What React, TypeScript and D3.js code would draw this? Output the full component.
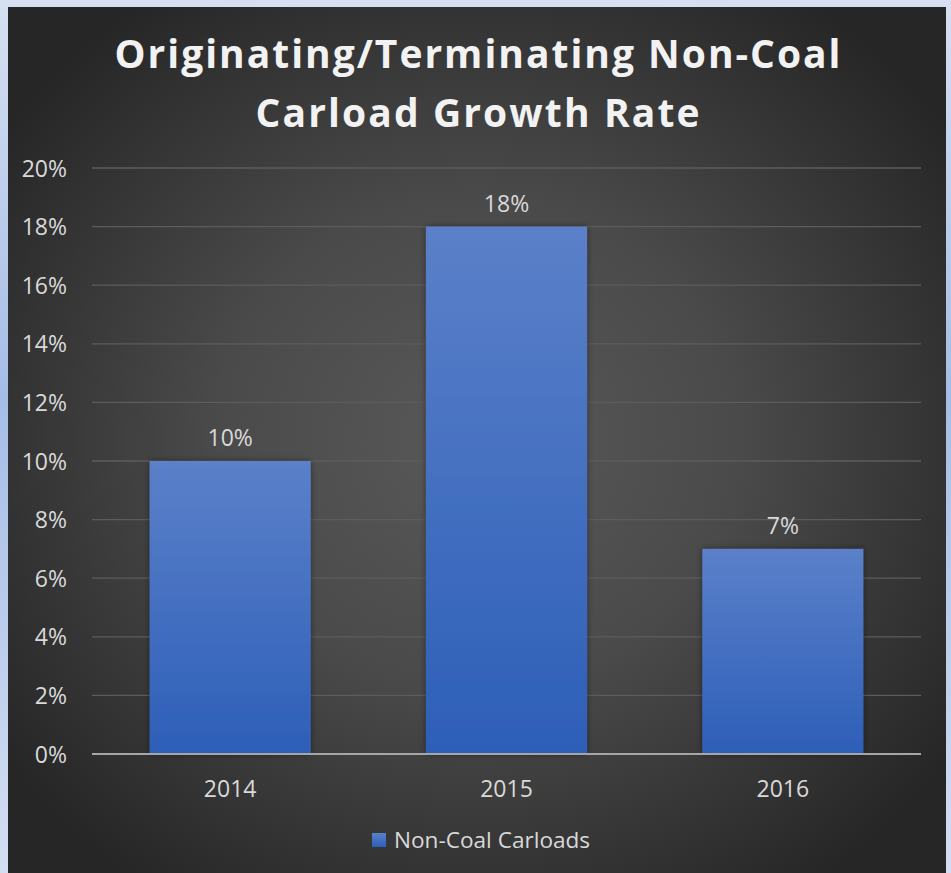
import React from 'react'
import * as d3 from 'd3'

const years = ['2014', '2015', '2016']
const growth = [10, 18, 7]
const yTicks = [0, 2, 4, 6, 8, 10, 12, 14, 16, 18, 20]
const titleLines = ['Originating/Terminating Non-Coal', 'Carload Growth Rate']
const seriesName = 'Non-Coal Carloads'

const W = 951
const H = 873
const font = '"Open Sans", "Noto Sans", sans-serif'
const labelColor = '#d9d9d9'

const x = d3.scaleBand<string>()
  .domain(years)
  .range([92, 921])
  .paddingInner(0.417)
  .paddingOuter(0.2085)

const y = d3.scaleLinear()
  .domain([0, 20])
  .range([754, 168])

export default function App() {
  return (
    <>
      <style>{`body { margin: 0; } svg { display: block; }`}</style>
      <svg width={W} height={H} style={{ fontFamily: font }}>
        <defs>
          <linearGradient id="frame" x1="0" y1="0" x2="0" y2="1">
            <stop offset="0%" stopColor="#d6e0f2" />
            <stop offset="45%" stopColor="#a5bde6" />
            <stop offset="100%" stopColor="#d3def2" />
          </linearGradient>
          <radialGradient id="bg" cx="0.5" cy="0.5" r="0.62">
            <stop offset="0%" stopColor="#595959" />
            <stop offset="45%" stopColor="#4a4a4a" />
            <stop offset="100%" stopColor="#262626" />
          </radialGradient>
          <linearGradient id="bar" x1="0" y1="0" x2="0" y2="1">
            <stop offset="0%" stopColor="#5b80c9" />
            <stop offset="100%" stopColor="#2d5fb8" />
          </linearGradient>
          <filter id="shadow" x="-10%" y="-10%" width="120%" height="120%">
            <feDropShadow dx="0" dy="0" stdDeviation="3" floodColor="#000" floodOpacity="0.45" />
          </filter>
        </defs>

        <rect width={W} height={H} fill="url(#frame)" />
        <rect x={8} y={7} width={938} height={H} fill="url(#bg)" />

        {titleLines.map((t, i) => (
          <text
            key={t}
            x={W / 2 + 2}
            y={68 + i * 59}
            textAnchor="middle"
            fontSize={39}
            fontWeight={700}
            fill="#f2f2f2"
            textLength={i === 0 ? 726 : 444}
            lengthAdjust="spacing"
          >{t}</text>
        ))}

        {yTicks.map(t => (
          <g key={t}>
            {t > 0 && (
              <line x1={92} x2={921} y1={y(t)} y2={y(t)} stroke="#5c5c5c" strokeWidth={1.3} />
            )}
            <text x={67} y={y(t) + 8.5} textAnchor="end" fontSize={23} fill={labelColor}>{t}%</text>
          </g>
        ))}

        {years.map((yr, i) => (
          <g key={yr}>
            <rect
              x={x(yr)}
              y={y(growth[i])}
              width={x.bandwidth()}
              height={y(0) - y(growth[i])}
              fill="url(#bar)"
              filter="url(#shadow)"
            />
            <text
              x={(x(yr) as number) + x.bandwidth() / 2}
              y={y(growth[i]) - 15}
              textAnchor="middle"
              fontSize={23}
              fill={labelColor}
            >{growth[i]}%</text>
            <text
              x={(x(yr) as number) + x.bandwidth() / 2}
              y={797}
              textAnchor="middle"
              fontSize={23}
              fill={labelColor}
            >{yr}</text>
          </g>
        ))}

        <line x1={92} x2={921} y1={y(0)} y2={y(0)} stroke="#a6a6a6" strokeWidth={2.2} />

        <g transform="translate(372,833)">
          <rect width={14} height={14} fill="url(#bar)" />
          <text x={22} y={15} fontSize={22.6} fill={labelColor}>{seriesName}</text>
        </g>
      </svg>
    </>
  )
}
